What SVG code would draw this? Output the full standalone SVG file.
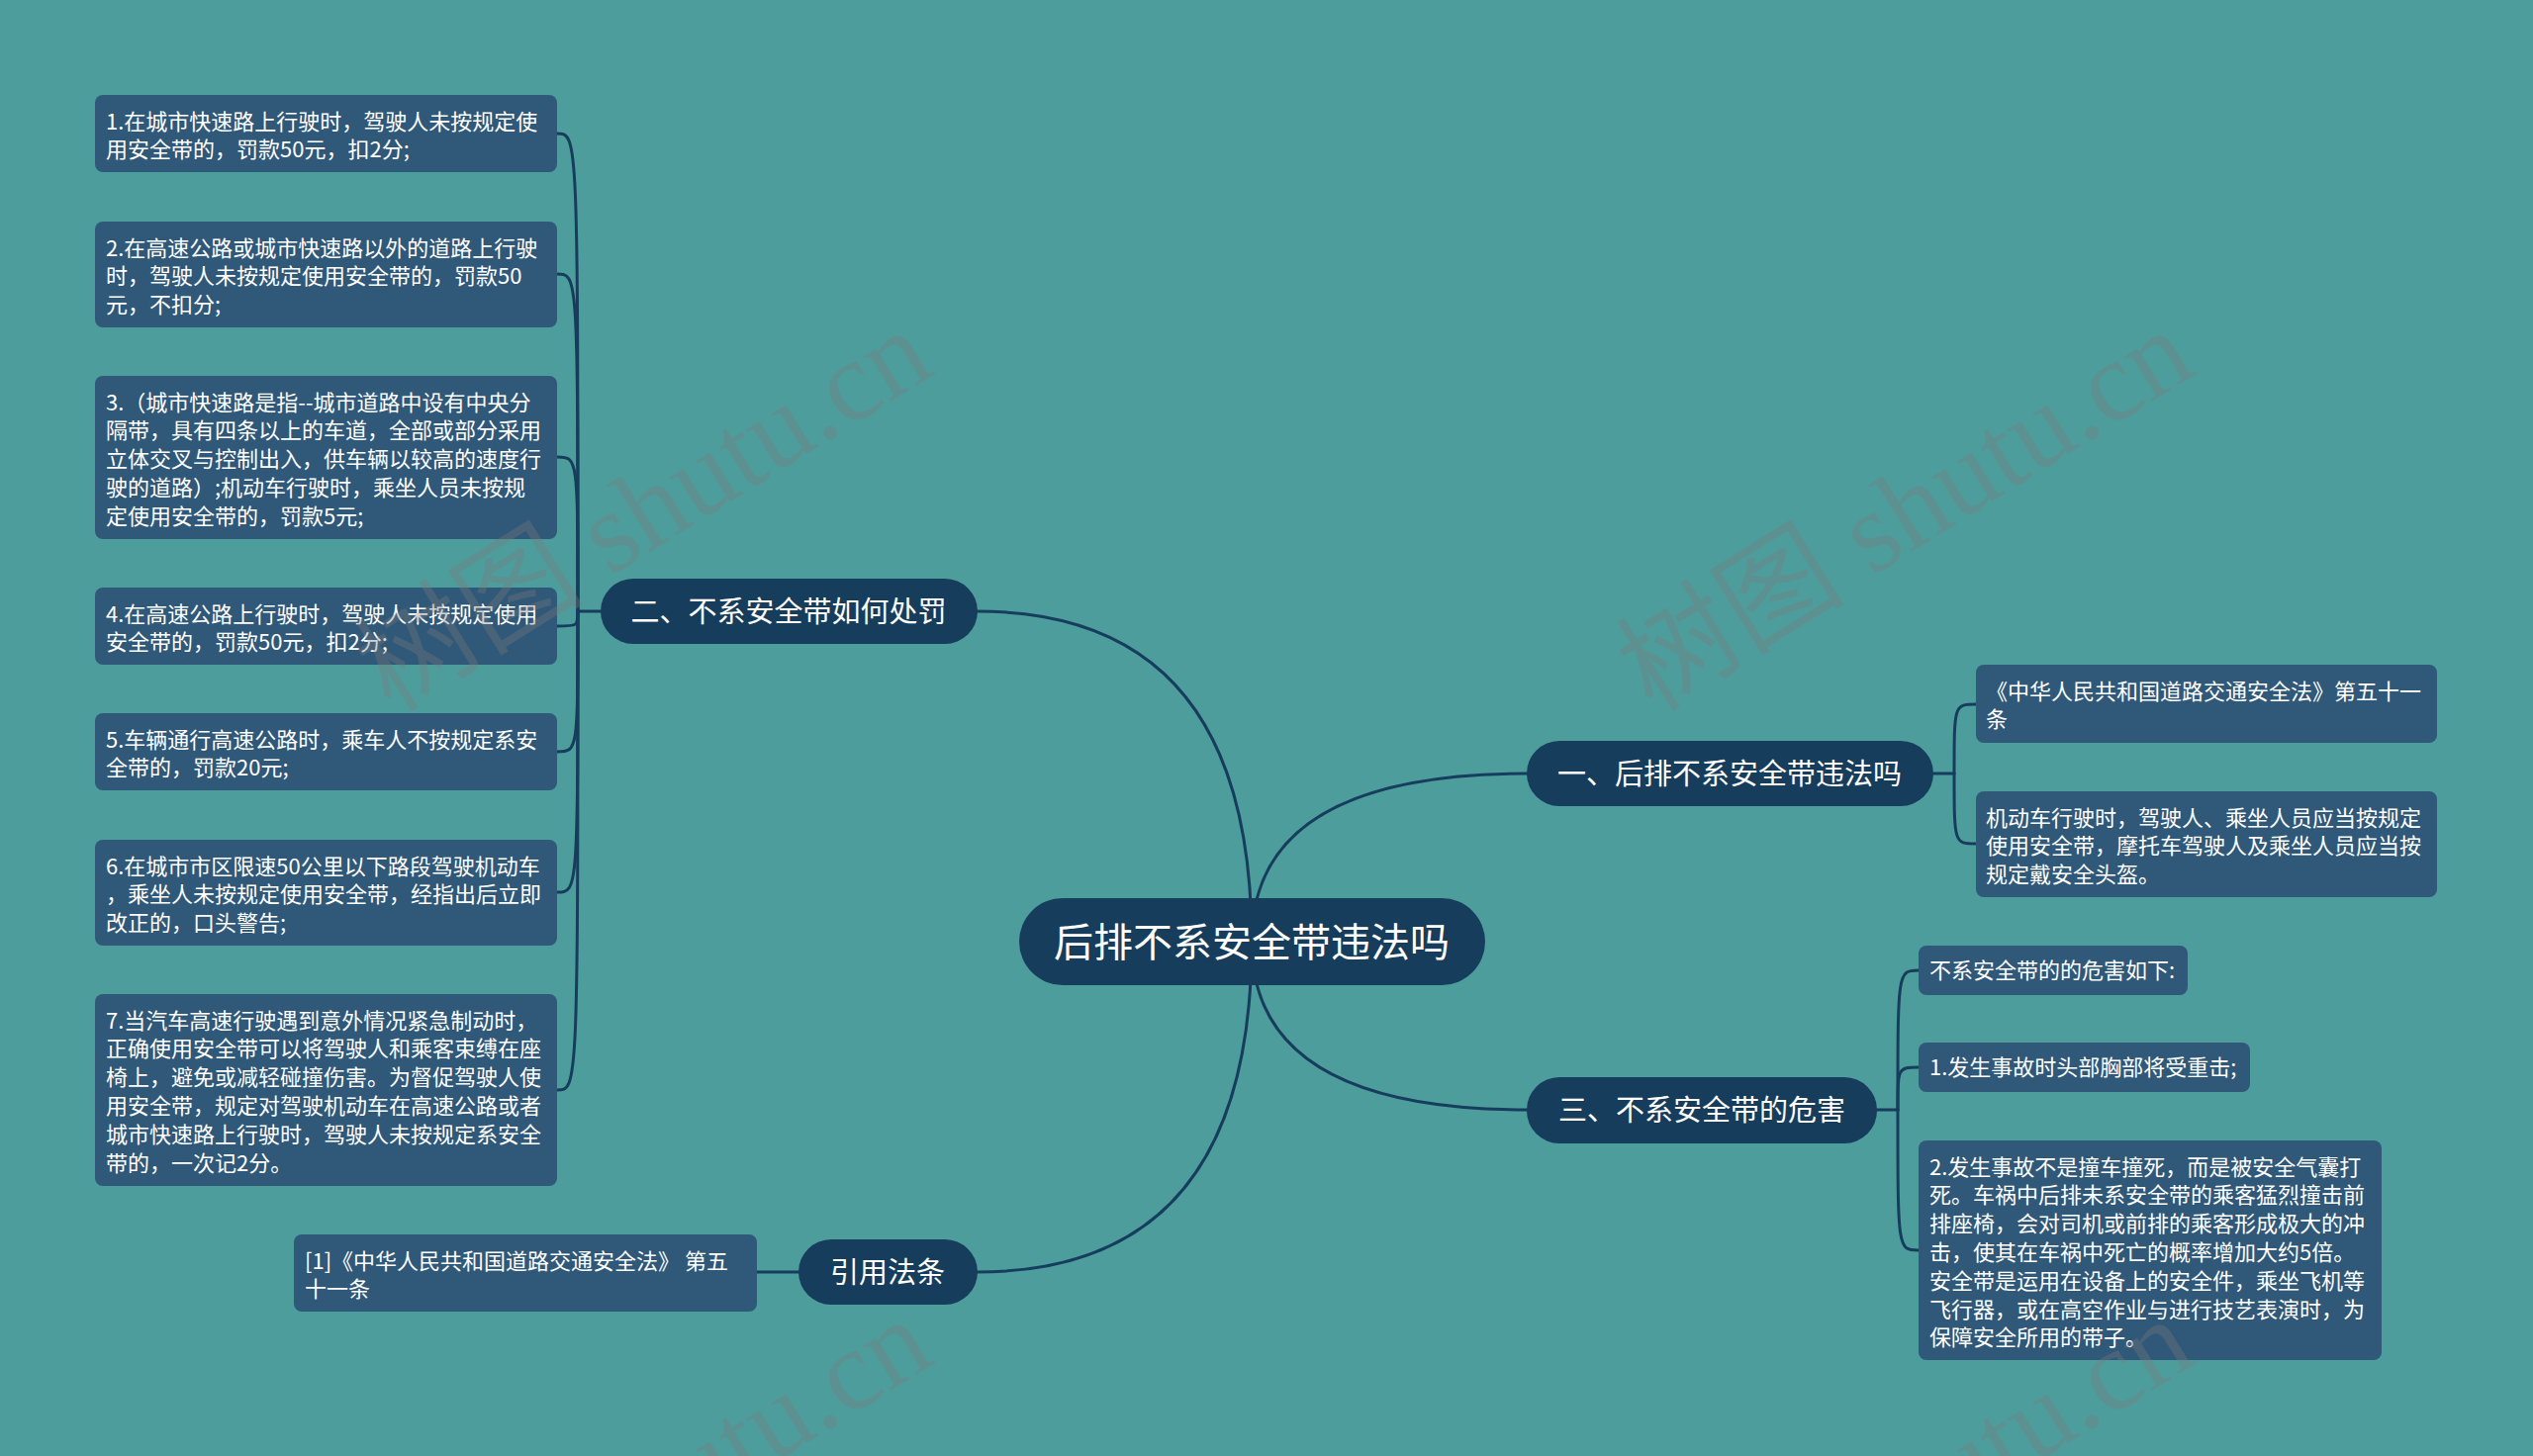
<svg xmlns="http://www.w3.org/2000/svg" width="2560" height="1472" viewBox="0 0 2560 1472">
<style>
.bg{fill:#4e9d9d}
.main{fill:#173d5c}
.leaf{fill:#2f5879}
.ln{fill:none;stroke:#173d5c;stroke-width:3;stroke-linecap:round}
.t{font-family:"Noto Sans CJK SC","Noto Sans",sans-serif;fill:#ffffff}
.ts{font-size:22px}
.tm{font-size:29px;text-anchor:middle}
.tc{font-size:40px;text-anchor:middle}
.wm{font-family:"Liberation Serif","Noto Sans CJK SC",serif;font-size:116px;fill:#7c7c7c;fill-opacity:0.34;text-anchor:middle}
</style>
<rect class="bg" x="0" y="0" width="2560" height="1472"/>

<g id="connectors">
  <path class="ln" d="M1265 952 Q1265 618 988 618"/>
  <path class="ln" d="M1265 952 Q1265 782 1543 782"/>
  <path class="ln" d="M1265 952 Q1265 1122 1543 1122"/>
  <path class="ln" d="M1265 952 Q1265 1286 988 1286"/>
  <path class="ln" d="M607 618 H584"/>
  <path class="ln" d="M584 618 C584 135 584 135 563 135"/>
  <path class="ln" d="M584 618 C584 277 584 277 563 277"/>
  <path class="ln" d="M584 618 C584 462 584 462 563 462"/>
  <path class="ln" d="M584 618 C584 633 584 633 563 633"/>
  <path class="ln" d="M584 618 C584 760 584 760 563 760"/>
  <path class="ln" d="M584 618 C584 902 584 902 563 902"/>
  <path class="ln" d="M584 618 C584 1102 584 1102 563 1102"/>
  <path class="ln" d="M1954 782 H1975"/>
  <path class="ln" d="M1975 782 C1975 712 1975 712 1997 712"/>
  <path class="ln" d="M1975 782 C1975 853 1975 853 1997 853"/>
  <path class="ln" d="M1897 1122 H1918"/>
  <path class="ln" d="M1918 1122 C1918 981 1918 981 1939 981"/>
  <path class="ln" d="M1918 1122 C1918 1079 1918 1079 1939 1079"/>
  <path class="ln" d="M1918 1122 C1918 1264 1918 1264 1939 1264"/>
  <path class="ln" d="M807 1286 H765"/>
</g>

<g id="root">
  <rect class="main" x="1030" y="908" width="471" height="88" rx="44"/>
  <text class="t tc" x="1265" y="967">后排不系安全带违法吗</text>
</g>

<g id="b2">
  <rect class="main" x="607" y="585" width="381" height="66" rx="33"/>
  <text class="t tm" x="797" y="629">二、不系安全带如何处罚</text>
</g>
<g id="b1">
  <rect class="main" x="1543" y="749" width="411" height="66" rx="33"/>
  <text class="t tm" x="1748" y="793">一、后排不系安全带违法吗</text>
</g>
<g id="b3">
  <rect class="main" x="1543" y="1089" width="354" height="67" rx="33"/>
  <text class="t tm" x="1720" y="1133">三、不系安全带的危害</text>
</g>
<g id="b4">
  <rect class="main" x="807" y="1253" width="181" height="66" rx="33"/>
  <text class="t tm" x="897" y="1297">引用法条</text>
</g>

<g id="l2-1">
  <rect class="leaf" x="96" y="96" width="467" height="78" rx="8"/>
  <text class="t ts" x="107" y="130.5">1.在城市快速路上行驶时，驾驶人未按规定使<tspan x="107" dy="28.8">用安全带的，罚款50元，扣2分;</tspan></text>
</g>
<g id="l2-2">
  <rect class="leaf" x="96" y="224" width="467" height="107" rx="8"/>
  <text class="t ts" x="107" y="258.5">2.在高速公路或城市快速路以外的道路上行驶<tspan x="107" dy="28.8">时，驾驶人未按规定使用安全带的，罚款50</tspan><tspan x="107" dy="28.8">元，不扣分;</tspan></text>
</g>
<g id="l2-3">
  <rect class="leaf" x="96" y="380" width="467" height="165" rx="8"/>
  <text class="t ts" x="107" y="414.5">3.（城市快速路是指--城市道路中设有中央分<tspan x="107" dy="28.8">隔带，具有四条以上的车道，全部或部分采用</tspan><tspan x="107" dy="28.8">立体交叉与控制出入，供车辆以较高的速度行</tspan><tspan x="107" dy="28.8">驶的道路）;机动车行驶时，乘坐人员未按规</tspan><tspan x="107" dy="28.8">定使用安全带的，罚款5元;</tspan></text>
</g>
<g id="l2-4">
  <rect class="leaf" x="96" y="594" width="467" height="78" rx="8"/>
  <text class="t ts" x="107" y="628.5">4.在高速公路上行驶时，驾驶人未按规定使用<tspan x="107" dy="28.8">安全带的，罚款50元，扣2分;</tspan></text>
</g>
<g id="l2-5">
  <rect class="leaf" x="96" y="721" width="467" height="78" rx="8"/>
  <text class="t ts" x="107" y="755.5">5.车辆通行高速公路时，乘车人不按规定系安<tspan x="107" dy="28.8">全带的，罚款20元;</tspan></text>
</g>
<g id="l2-6">
  <rect class="leaf" x="96" y="849" width="467" height="107" rx="8"/>
  <text class="t ts" x="107" y="883.5">6.在城市市区限速50公里以下路段驾驶机动车<tspan x="107" dy="28.8">，乘坐人未按规定使用安全带，经指出后立即</tspan><tspan x="107" dy="28.8">改正的，口头警告;</tspan></text>
</g>
<g id="l2-7">
  <rect class="leaf" x="96" y="1005" width="467" height="194" rx="8"/>
  <text class="t ts" x="107" y="1039.5">7.当汽车高速行驶遇到意外情况紧急制动时，<tspan x="107" dy="28.8">正确使用安全带可以将驾驶人和乘客束缚在座</tspan><tspan x="107" dy="28.8">椅上，避免或减轻碰撞伤害。为督促驾驶人使</tspan><tspan x="107" dy="28.8">用安全带，规定对驾驶机动车在高速公路或者</tspan><tspan x="107" dy="28.8">城市快速路上行驶时，驾驶人未按规定系安全</tspan><tspan x="107" dy="28.8">带的，一次记2分。</tspan></text>
</g>

<g id="l4-1">
  <rect class="leaf" x="297" y="1248" width="468" height="78" rx="8"/>
  <text class="t ts" x="308" y="1282.5">[1]《中华人民共和国道路交通安全法》 第五<tspan x="308" dy="28.8">十一条</tspan></text>
</g>

<g id="l1-1">
  <rect class="leaf" x="1997" y="672" width="466" height="79" rx="8"/>
  <text class="t ts" x="2007" y="706.5">《中华人民共和国道路交通安全法》第五十一<tspan x="2007" dy="28.8">条</tspan></text>
</g>
<g id="l1-2">
  <rect class="leaf" x="1997" y="800" width="466" height="107" rx="8"/>
  <text class="t ts" x="2007" y="834.5">机动车行驶时，驾驶人、乘坐人员应当按规定<tspan x="2007" dy="28.8">使用安全带，摩托车驾驶人及乘坐人员应当按</tspan><tspan x="2007" dy="28.8">规定戴安全头盔。</tspan></text>
</g>

<g id="l3-1">
  <rect class="leaf" x="1939" y="956" width="272" height="50" rx="8"/>
  <text class="t ts" x="1950" y="989">不系安全带的的危害如下:</text>
</g>
<g id="l3-2">
  <rect class="leaf" x="1939" y="1054" width="335" height="50" rx="8"/>
  <text class="t ts" x="1950" y="1087">1.发生事故时头部胸部将受重击;</text>
</g>
<g id="l3-3">
  <rect class="leaf" x="1939" y="1153" width="468" height="222" rx="8"/>
  <text class="t ts" x="1950" y="1187.5">2.发生事故不是撞车撞死，而是被安全气囊打<tspan x="1950" dy="28.8">死。车祸中后排未系安全带的乘客猛烈撞击前</tspan><tspan x="1950" dy="28.8">排座椅，会对司机或前排的乘客形成极大的冲</tspan><tspan x="1950" dy="28.8">击，使其在车祸中死亡的概率增加大约5倍。</tspan><tspan x="1950" dy="28.8">安全带是运用在设备上的安全件，乘坐飞机等</tspan><tspan x="1950" dy="28.8">飞行器，或在高空作业与进行技艺表演时，为</tspan><tspan x="1950" dy="28.8">保障安全所用的带子。</tspan></text>
</g>

<g id="watermark">
  <text class="wm" x="650" y="555" transform="rotate(-32 650 515)">树图 shutu.cn</text>
  <text class="wm" x="1925" y="555" transform="rotate(-32 1925 515)">树图 shutu.cn</text>
  <text class="wm" x="650" y="1555" transform="rotate(-32 650 1515)">树图 shutu.cn</text>
  <text class="wm" x="1925" y="1555" transform="rotate(-32 1925 1515)">树图 shutu.cn</text>
</g>
</svg>
